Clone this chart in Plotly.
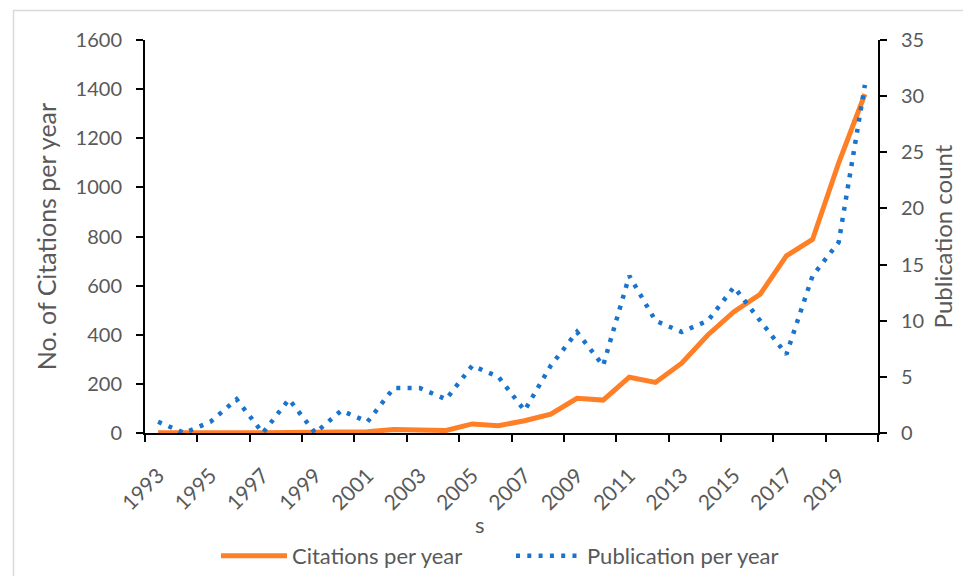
import plotly.graph_objects as go

years = list(range(1993, 2021))
citations = [1, 0, 1, 2, 1, 2, 3, 5, 5, 14, 14, 10, 37, 30, 50, 77, 141, 134,
             227, 206, 284, 399, 494, 565, 721, 788, 1100, 1380]
publications = [1, 0, 1, 3, 0, 3, 0, 2, 1, 4, 4, 3, 6, 5, 2, 6, 9, 6,
                14, 10, 9, 10, 13, 10, 7, 14, 17, 31]
label_years = list(range(1993, 2021, 2))
boundary_ticks = [y - 0.5 for y in range(1993, 2022, 2)]

GRAY = "#595959"
FONT = "Lato"

fig = go.Figure()
fig.add_trace(go.Scatter(
    x=years, y=citations, name="Citations per year", mode="lines",
    line=dict(color="#FF7F27", width=5), yaxis="y"))
fig.add_trace(go.Scatter(
    x=years, y=publications, name="Publication per year", mode="lines",
    line=dict(color="#1A73CC", width=4.5, dash="4px,7.3px"), yaxis="y2"))

# reference-picture plot area (the page body adds an 8px offset)
OFF = 8
RL, RR, RT, RB = 145, 878, 40, 433
W, H = 971 - 2 * OFF, 584 - 2 * OFF
L, T = RL - OFF, RT - OFF
R = W - L - (RR - RL)
B = H - T - (RB - RT)
pw, ph = RR - RL, RB - RT


def px(x):
    return (x - RL) / pw


def py(y):
    return (RB - y) / ph


axis_common = dict(showgrid=False, zeroline=False, showline=True,
                   linecolor="black", linewidth=2, ticks="outside",
                   ticklen=7, tickwidth=2, tickcolor="black",
                   ticklabelstandoff=10,
                   tickfont=dict(family=FONT, size=20, color=GRAY))

fig.update_layout(
    width=W, height=H,
    margin=dict(l=L, r=R, t=T, b=B, autoexpand=False),
    paper_bgcolor="white", plot_bgcolor="white",
    font=dict(family=FONT, color=GRAY, size=20),
    xaxis=dict(
        type="linear", range=[1992.5, 2020.5],
        showgrid=False, zeroline=False, showline=True,
        linecolor="black", linewidth=2,
        tickmode="array", tickvals=label_years,
        ticktext=[str(y) for y in label_years],
        ticks="outside", ticklen=20, tickcolor="rgba(0,0,0,0)",
        tickangle=-45,
        tickfont=dict(family=FONT, size=21, color=GRAY),
        minor=dict(tickvals=boundary_ticks, ticks="outside", ticklen=7,
                   tickwidth=2, tickcolor="black", showgrid=False),
    ),
    yaxis=dict(range=[0, 1600], dtick=200,
               title=dict(text="No. of Citations per year",
                          font=dict(family=FONT, size=25, color=GRAY),
                          standoff=12),
               **axis_common),
    yaxis2=dict(range=[0, 35], dtick=5, overlaying="y", side="right",
                title=dict(text="Publication count",
                           font=dict(family=FONT, size=24, color=GRAY),
                           standoff=12),
                **axis_common),
    legend=dict(orientation="h", x=px(511), xanchor="center",
                y=py(556), yanchor="middle",
                font=dict(family=FONT, size=22, color=GRAY),
                itemwidth=66, entrywidth=214, entrywidthmode="pixels"),
    showlegend=True,
    annotations=[dict(text="s", xref="paper", yref="paper",
                      x=px(480), y=py(524), xanchor="center",
                      yanchor="middle", showarrow=False,
                      font=dict(family=FONT, size=22, color=GRAY))],
    shapes=[dict(type="rect", xref="paper", yref="paper",
                 x0=px(13.5), x1=px(990), y0=py(610), y1=py(10.5),
                 line=dict(color="#D9D9D9", width=1.5), layer="below")],
)

fig.write_html("out.html")
